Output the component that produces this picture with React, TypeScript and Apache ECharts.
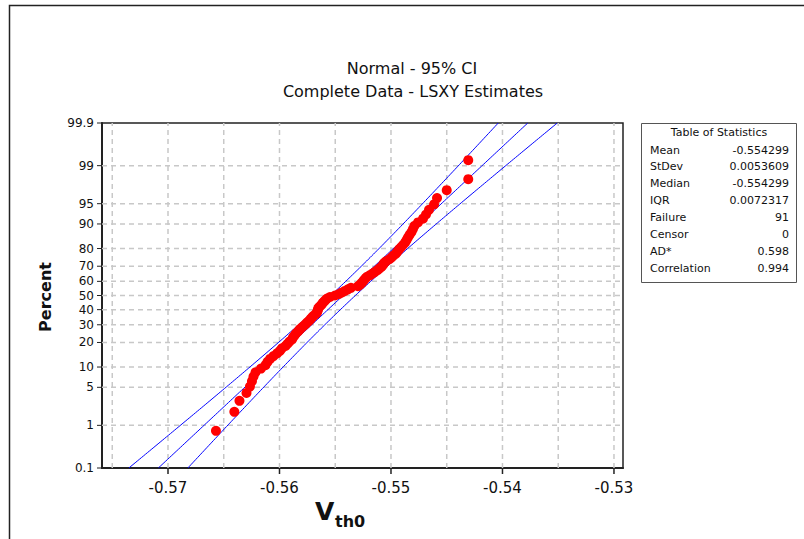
import React, { useEffect, useRef } from 'react';
import * as echarts from 'echarts';

// ---------------- data ----------------
const vth0: number[] = [
  -0.5657, -0.56405, -0.56359, -0.56296, -0.56265, -0.56247, -0.56233, -0.56215, -0.56166, -0.56126,
  -0.56108, -0.56085, -0.56054, -0.56022, -0.55996, -0.55978, -0.55946, -0.55928, -0.5591, -0.55888,
  -0.55879, -0.55865, -0.55852, -0.55834, -0.55821, -0.55803, -0.55785, -0.55767, -0.55753, -0.55735,
  -0.55722, -0.55709, -0.55695, -0.55677, -0.55664, -0.55659, -0.55655, -0.5565, -0.55637, -0.55623,
  -0.55614, -0.55601, -0.55587, -0.55574, -0.55547, -0.55502, -0.55466, -0.55439, -0.55413, -0.55386,
  -0.55359, -0.55296, -0.55278, -0.55265, -0.55251, -0.55242, -0.55229, -0.55215, -0.55188, -0.55166,
  -0.55143, -0.55121, -0.55103, -0.55085, -0.55072, -0.55063, -0.55045, -0.55018, -0.54996, -0.54978,
  -0.54955, -0.54942, -0.54928, -0.5491, -0.54892, -0.54874, -0.54861, -0.54848, -0.54834, -0.54816,
  -0.54803, -0.54789, -0.54758, -0.54713, -0.54686, -0.54659, -0.54614, -0.54587, -0.545, -0.54307,
  -0.54307,
];

const percentTicks: number[] = [0.1, 1, 5, 10, 20, 30, 40, 50, 60, 70, 80, 90, 95, 99, 99.9];
const xTickLabels: number[] = [-0.57, -0.56, -0.55, -0.54, -0.53];
const xGridLines: number[] = [-0.575, -0.57, -0.565, -0.56, -0.555, -0.55, -0.545, -0.54, -0.535, -0.53];

const statLabels: string[] = ['Mean', 'StDev', 'Median', 'IQR', 'Failure', 'Censor', 'AD*', 'Correlation'];
const statValues: string[] = ['-0.554299', '0.0053609', '-0.554299', '0.0072317', '91', '0', '0.598', '0.994'];

const fitMean = -0.554299;
const fitSd = 0.0053609;
const nFail = 91;

const X_MIN = -0.57592;
const X_MAX = -0.52919;

// inverse standard normal CDF (Acklam)
function normInv(p: number): number {
  const a = [-3.969683028665376e1, 2.209460984245205e2, -2.759285104469687e2, 1.38357751867269e2, -3.066479806614716e1, 2.506628277459239];
  const b = [-5.447609879822406e1, 1.615858368580409e2, -1.556989798598866e2, 6.680131188771972e1, -1.328068155288572e1];
  const c = [-7.784894002430293e-3, -3.223964580411365e-1, -2.400758277161838, -2.549732539343734, 4.374664141464968, 2.938163982698783];
  const d = [7.784695709041462e-3, 3.224671290700398e-1, 2.445134137142996, 3.754408661907416];
  const pl = 0.02425;
  if (p < pl) {
    const q = Math.sqrt(-2 * Math.log(p));
    return (((((c[0] * q + c[1]) * q + c[2]) * q + c[3]) * q + c[4]) * q + c[5]) / ((((d[0] * q + d[1]) * q + d[2]) * q + d[3]) * q + 1);
  }
  if (p <= 1 - pl) {
    const q = p - 0.5;
    const r = q * q;
    return ((((((a[0] * r + a[1]) * r + a[2]) * r + a[3]) * r + a[4]) * r + a[5]) * q) / (((((b[0] * r + b[1]) * r + b[2]) * r + b[3]) * r + b[4]) * r + 1);
  }
  const q = Math.sqrt(-2 * Math.log(1 - p));
  return -(((((c[0] * q + c[1]) * q + c[2]) * q + c[3]) * q + c[4]) * q + c[5]) / ((((d[0] * q + d[1]) * q + d[2]) * q + d[3]) * q + 1);
}

const Z_MAX = normInv(0.999);
const Z_MIN = normInv(0.001);

const FONT = 'DejaVu Sans';
const GRID_COLOR = '#c8c8c8';

export default function App() {
  const ref = useRef<HTMLDivElement>(null);

  useEffect(() => {
    if (!ref.current) return;
    const chart = echarts.init(ref.current, undefined, { renderer: 'svg' });

    const sorted = [...vth0].sort((a, b) => a - b);
    const n = sorted.length;
    const points = sorted.map((v, i) => [v, normInv((i + 1 - 0.3) / (n + 0.4))]);

    const centerLine: number[][] = [];
    const lowerLine: number[][] = [];
    const upperLine: number[][] = [];
    const steps = 200;
    for (let k = 0; k <= steps; k++) {
      const z = Z_MIN + ((Z_MAX - Z_MIN) * k) / steps;
      const xp = fitMean + fitSd * z;
      const hw = 1.96 * fitSd * Math.sqrt(1 / nFail + (z * z) / (2 * nFail));
      centerLine.push([xp, z]);
      lowerLine.push([xp - hw, z]);
      upperLine.push([xp + hw, z]);
    }

    const yTickData = percentTicks.map((p) => [X_MIN, normInv(p / 100)]);
    const xGridData = xGridLines.map((v) => [v, Z_MIN]);

    const option: any = {
      animation: false,
      backgroundColor: '#ffffff',
      grid: {
        left: 102,
        top: 123,
        width: 521,
        height: 345,
        show: true,
        borderColor: '#222',
        borderWidth: 1.5,
        backgroundColor: 'transparent',
      },
      xAxis: {
        type: 'value',
        min: X_MIN,
        max: X_MAX,
        axisLine: { show: true, onZero: false, lineStyle: { color: '#222', width: 2 } },
        axisTick: { show: false },
        axisLabel: { show: false },
        splitLine: { show: false },
      },
      yAxis: {
        type: 'value',
        min: Z_MIN,
        max: Z_MAX,
        axisLine: { show: true, onZero: false, lineStyle: { color: '#222', width: 2 } },
        axisTick: { show: false },
        axisLabel: { show: false },
        splitLine: { show: false },
      },
      graphic: [
        {
          type: 'rect',
          z: -10,
          shape: { x: 9.5, y: 5.5, width: 900, height: 700 },
          style: { fill: 'none', stroke: '#222', lineWidth: 1.5 },
        },
        {
          type: 'text',
          x: 412,
          y: 68,
          style: { text: 'Normal - 95% CI', fontFamily: FONT, fontSize: 16, fill: '#111', align: 'center', verticalAlign: 'middle', textAlign: 'center', textVerticalAlign: 'middle' },
        },
        {
          type: 'text',
          x: 413,
          y: 91,
          style: { text: 'Complete Data - LSXY Estimates', fontFamily: FONT, fontSize: 16, fill: '#111', align: 'center', verticalAlign: 'middle', textAlign: 'center', textVerticalAlign: 'middle' },
        },
        {
          type: 'text',
          x: 45,
          y: 297,
          rotation: Math.PI / 2,
          style: { text: 'Percent', fontFamily: FONT, fontSize: 16, fontWeight: 'bold', fill: '#111', align: 'center', verticalAlign: 'middle', textAlign: 'center', textVerticalAlign: 'middle' },
        },
        {
          type: 'text',
          x: 315,
          y: 524,
          style: { text: 'V', fontFamily: FONT, fontSize: 25, fontWeight: 'bold', fill: '#111', align: 'left', verticalAlign: 'bottom', textAlign: 'left', textVerticalAlign: 'bottom' },
        },
        {
          type: 'text',
          x: 335,
          y: 529,
          style: { text: 'th0', fontFamily: FONT, fontSize: 16, fontWeight: 'bold', fill: '#111', align: 'left', verticalAlign: 'bottom', textAlign: 'left', textVerticalAlign: 'bottom' },
        },
        {
          type: 'rect',
          shape: { x: 641.5, y: 123.5, width: 155, height: 159 },
          style: { fill: '#fff', stroke: '#555', lineWidth: 1 },
        },
        {
          type: 'text',
          x: 719,
          y: 132,
          style: { text: 'Table of Statistics', fontFamily: FONT, fontSize: 11, fill: '#111', align: 'center', verticalAlign: 'middle', textAlign: 'center', textVerticalAlign: 'middle' },
        },
        ...statLabels.map((lab, i) => ({
          type: 'text',
          x: 650,
          y: 150 + i * 16.9,
          style: { text: lab, fontFamily: FONT, fontSize: 11, fill: '#111', align: 'left', verticalAlign: 'middle', textAlign: 'left', textVerticalAlign: 'middle' },
        })),
        ...statValues.map((val, i) => ({
          type: 'text',
          x: 789,
          y: 150 + i * 16.9,
          style: { text: val, fontFamily: FONT, fontSize: 11, fill: '#111', align: 'right', verticalAlign: 'middle', textAlign: 'right', textVerticalAlign: 'middle' },
        })),
      ],
      series: [
        {
          type: 'custom',
          name: 'yticks',
          z: 1,
          silent: true,
          data: yTickData,
          encode: { x: 0, y: 1 },
          renderItem: (params: any, api: any) => {
            const idx = params.dataIndex;
            const z = api.value(1);
            const p0 = api.coord([X_MIN, z]);
            const p1 = api.coord([X_MAX, z]);
            const children: any[] = [];
            const isEdge = idx === 0 || idx === percentTicks.length - 1;
            if (!isEdge) {
              children.push({
                type: 'line',
                shape: { x1: p0[0], y1: p0[1], x2: p1[0], y2: p1[1] },
                style: { stroke: GRID_COLOR, lineWidth: 1.5, lineDash: [5, 4] },
              });
            }
            children.push({
              type: 'line',
              shape: { x1: p0[0] - 5, y1: p0[1], x2: p0[0], y2: p0[1] },
              style: { stroke: '#222', lineWidth: 1 },
            });
            children.push({
              type: 'text',
              x: p0[0] - 8,
              y: p0[1],
              style: { text: String(percentTicks[idx]), fontFamily: FONT, fontSize: 12, fill: '#111', align: 'right', verticalAlign: 'middle' },
            });
            return { type: 'group', children };
          },
        },
        {
          type: 'custom',
          name: 'xticks',
          z: 1,
          silent: true,
          data: xGridData,
          encode: { x: 0, y: 1 },
          renderItem: (params: any, api: any) => {
            const v = api.value(0);
            const p0 = api.coord([v, Z_MIN]);
            const p1 = api.coord([v, Z_MAX]);
            const children: any[] = [
              {
                type: 'line',
                shape: { x1: p0[0], y1: p0[1], x2: p1[0], y2: p1[1] },
                style: { stroke: GRID_COLOR, lineWidth: 1.5, lineDash: [5, 4] },
              },
            ];
            const lab = xTickLabels.find((t) => Math.abs(t - v) < 1e-9);
            if (lab !== undefined) {
              children.push({
                type: 'line',
                shape: { x1: p0[0], y1: p0[1], x2: p0[0], y2: p0[1] + 6 },
                style: { stroke: '#222', lineWidth: 1.5 },
              });
              children.push({
                type: 'text',
                x: p0[0],
                y: p0[1] + 20,
                style: { text: lab.toFixed(2), fontFamily: FONT, fontSize: 15, fill: '#111', align: 'center', verticalAlign: 'middle' },
              });
            }
            return { type: 'group', children };
          },
        },
        {
          type: 'line',
          name: 'fit',
          z: 2,
          data: centerLine,
          showSymbol: false,
          symbol: 'none',
          clip: true,
          lineStyle: { color: '#0000ff', width: 1 },
        },
        {
          type: 'line',
          name: 'lower',
          z: 2,
          data: lowerLine,
          showSymbol: false,
          symbol: 'none',
          clip: true,
          lineStyle: { color: '#0000ff', width: 1 },
        },
        {
          type: 'line',
          name: 'upper',
          z: 2,
          data: upperLine,
          showSymbol: false,
          symbol: 'none',
          clip: true,
          lineStyle: { color: '#0000ff', width: 1 },
        },
        {
          type: 'scatter',
          name: 'Vth0',
          z: 3,
          data: points,
          symbol: 'circle',
          symbolSize: 10,
          itemStyle: { color: '#ff0000', opacity: 1 },
        },
      ],
    };

    chart.setOption(option);
    return () => chart.dispose();
  }, []);

  return <div ref={ref} style={{ position: 'absolute', left: 0, top: 0, width: 804, height: 539 }} />;
}
